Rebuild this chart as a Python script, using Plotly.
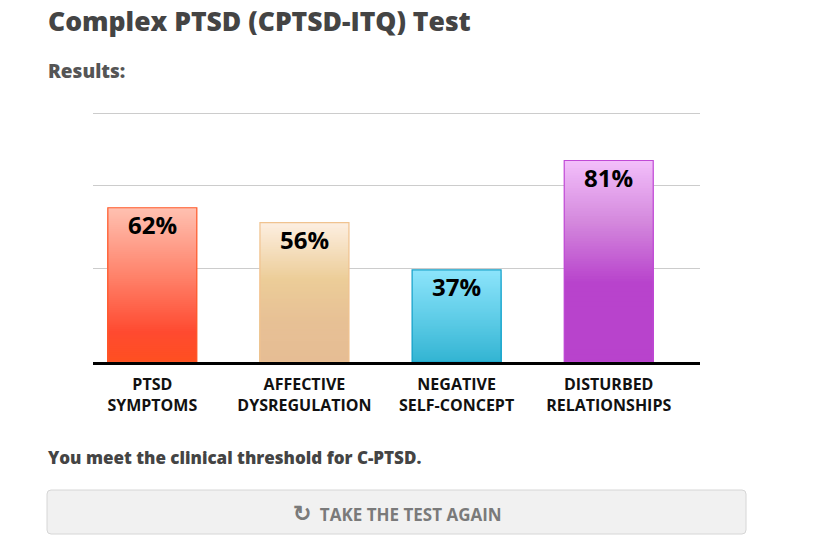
import plotly.graph_objects as go

# data
categories = ["PTSD<br>SYMPTOMS", "AFFECTIVE<br>DYSREGULATION", "NEGATIVE<br>SELF-CONCEPT", "DISTURBED<br>RELATIONSHIPS"]
scores = [62, 56, 37, 81]
grid_levels = [37.6, 70.8, 100]

# gradient stops per bar (position from bottom, colour)
bar_gradients = [
    [(0.0, (255, 80, 32)), (0.2, (255, 74, 48)), (0.55, (255, 128, 104)), (1.0, (255, 192, 176))],
    [(0.0, (230, 189, 148)), (0.3, (231, 192, 149)), (0.6, (236, 205, 152)), (1.0, (253, 238, 224))],
    [(0.0, (50, 180, 210)), (0.5, (96, 205, 232)), (1.0, (140, 228, 251))],
    [(0.0, (184, 67, 204)), (0.4, (184, 67, 204)), (0.7, (212, 136, 221)), (1.0, (242, 190, 250))],
]
outline_colors = ["#ff5a2a", "#f0c390", "#14a0c8", "#c04ad6"]

OFF = 8  # page body margin
W, H = 821 - OFF, 552 - OFF
L, R, T, B = 93, 700, 112, 362  # plot area in page pixels


def px_x(p):
    return (p - L) / (R - L)


def px_y(p):
    return (B - p) / (B - T)


def grad_color(stops, t):
    for (t0, c0), (t1, c1) in zip(stops, stops[1:]):
        if t <= t1:
            f = 0 if t1 == t0 else (t - t0) / (t1 - t0)
            c = [round(a + (b - a) * f) for a, b in zip(c0, c1)]
            return f"rgb({c[0]},{c[1]},{c[2]})"
    c = stops[-1][1]
    return f"rgb({c[0]},{c[1]},{c[2]})"


fig = go.Figure()

# gradient fill: overlapping bars, tallest first
N = 80
for k in range(N):
    frac = (N - k) / N
    fig.add_trace(go.Bar(
        x=categories,
        y=[v * frac for v in scores],
        marker=dict(color=[grad_color(g, frac) for g in bar_gradients], line_width=0),
        hoverinfo="skip",
        showlegend=False,
    ))

# outline
fig.add_trace(go.Bar(
    x=categories,
    y=scores,
    marker=dict(color="rgba(0,0,0,0)", line=dict(color=outline_colors, width=1.2)),
    showlegend=False,
))

# value labels near the top of each bar
for cat, v in zip(categories, scores):
    fig.add_annotation(
        x=cat, y=v, text=f"{v}%", showarrow=False,
        yanchor="middle", yshift=-17,
        font=dict(family="Open Sans", size=24, color="#000000", weight="bold"),
    )

fig.update_layout(
    width=W, height=H,
    margin=dict(l=L - OFF, r=W - (R - OFF), t=T - OFF, b=H - (B - OFF)),
    paper_bgcolor="white",
    plot_bgcolor="white",
    barmode="overlay",
    bargap=0.415,
    font=dict(family="Open Sans", color="#444444"),
    showlegend=False,
)

fig.update_xaxes(
    range=[-0.39, 3.6],
    showline=True, linecolor="#000000", linewidth=3,
    ticks="", showgrid=False, ticklabelstandoff=6,
    tickfont=dict(family="Open Sans", size=16, color="#111111", weight="bold"),
)
fig.update_yaxes(
    range=[0, 100.5], showticklabels=False, ticks="",
    tickvals=grid_levels, showgrid=True, gridcolor="#cccccc", gridwidth=1,
    zeroline=False,
)

# texts
fig.add_annotation(
    text="Complex PTSD (CPTSD-ITQ) Test", xref="paper", yref="paper",
    x=px_x(46), y=px_y(21), xanchor="left", yanchor="middle", showarrow=False,
    font=dict(family="Open Sans", size=26.5, color="#444444", weight=800),
)
fig.add_annotation(
    text="Results:", xref="paper", yref="paper",
    x=px_x(46), y=px_y(71), xanchor="left", yanchor="middle", showarrow=False,
    font=dict(family="Open Sans", size=19, color="#555555", weight=800),
)
fig.add_annotation(
    text="You meet the clinical threshold for C-PTSD.", xref="paper", yref="paper",
    x=px_x(46), y=px_y(457), xanchor="left", yanchor="middle", showarrow=False,
    font=dict(family="Open Sans", size=17, color="#444444", weight=800),
)

# button
bx0, bx1, by0, by1, r = 47, 746, 490, 534, 4
path = (
    f"M {px_x(bx0 + r)},{px_y(by0)} L {px_x(bx1 - r)},{px_y(by0)} "
    f"Q {px_x(bx1)},{px_y(by0)} {px_x(bx1)},{px_y(by0 + r)} "
    f"L {px_x(bx1)},{px_y(by1 - r)} Q {px_x(bx1)},{px_y(by1)} {px_x(bx1 - r)},{px_y(by1)} "
    f"L {px_x(bx0 + r)},{px_y(by1)} Q {px_x(bx0)},{px_y(by1)} {px_x(bx0)},{px_y(by1 - r)} "
    f"L {px_x(bx0)},{px_y(by0 + r)} Q {px_x(bx0)},{px_y(by0)} {px_x(bx0 + r)},{px_y(by0)} Z"
)
fig.add_shape(
    type="path", path=path, xref="paper", yref="paper",
    fillcolor="#f1f1f1", line=dict(color="#d6d6d6", width=1), layer="below",
)
fig.add_annotation(
    text="<span style='font-size:22px'>↻</span>  TAKE THE TEST AGAIN", xref="paper", yref="paper",
    x=px_x(397), y=px_y(512), xanchor="center", yanchor="middle", showarrow=False,
    font=dict(family="Open Sans", size=17, color="#7a7a7a", weight="bold"),
)

fig.write_html("out.html")
